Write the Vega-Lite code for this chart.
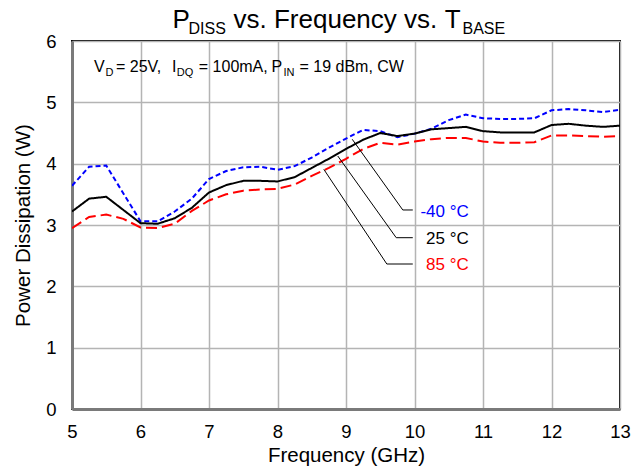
{
  "$schema": "https://vega.github.io/schema/vega-lite/v6.json",
  "width": 548,
  "height": 368,
  "autosize": {"type": "none"},
  "padding": {"left": 72, "top": 41, "right": 24, "bottom": 59},
  "background": "white",
  "config": {
    "view": {"stroke": "#000000", "strokeWidth": 2},
    "font": "Liberation Sans",
    "axis": {
      "labelFont": "Liberation Sans",
      "titleFont": "Liberation Sans",
      "labelColor": "#000000",
      "titleColor": "#000000",
      "titleFontWeight": "normal",
      "gridColor": "#b4b4b4",
      "gridWidth": 1.5,
      "domainColor": "#7a7a7a",
      "domainWidth": 3,
      "ticks": false,
      "labelFlush": false
    }
  },
  "datasets": {
    "series": [
      {"f": 5.0, "p": 3.64, "s": "-40 °C"}, {"f": 5.25, "p": 3.95, "s": "-40 °C"}, {"f": 5.5, "p": 3.97, "s": "-40 °C"}, {"f": 6.0, "p": 3.06, "s": "-40 °C"}, {"f": 6.25, "p": 3.06, "s": "-40 °C"}, {"f": 6.5, "p": 3.22, "s": "-40 °C"}, {"f": 6.75, "p": 3.43, "s": "-40 °C"}, {"f": 7.0, "p": 3.75, "s": "-40 °C"}, {"f": 7.25, "p": 3.88, "s": "-40 °C"}, {"f": 7.5, "p": 3.94, "s": "-40 °C"}, {"f": 7.75, "p": 3.95, "s": "-40 °C"}, {"f": 8.0, "p": 3.9, "s": "-40 °C"}, {"f": 8.25, "p": 3.96, "s": "-40 °C"}, {"f": 8.5, "p": 4.1, "s": "-40 °C"}, {"f": 8.75, "p": 4.26, "s": "-40 °C"}, {"f": 9.0, "p": 4.41, "s": "-40 °C"}, {"f": 9.25, "p": 4.55, "s": "-40 °C"}, {"f": 9.5, "p": 4.53, "s": "-40 °C"}, {"f": 9.75, "p": 4.43, "s": "-40 °C"}, {"f": 10.0, "p": 4.49, "s": "-40 °C"}, {"f": 10.25, "p": 4.57, "s": "-40 °C"}, {"f": 10.5, "p": 4.71, "s": "-40 °C"}, {"f": 10.75, "p": 4.8, "s": "-40 °C"}, {"f": 11.0, "p": 4.74, "s": "-40 °C"}, {"f": 11.25, "p": 4.73, "s": "-40 °C"}, {"f": 11.5, "p": 4.73, "s": "-40 °C"}, {"f": 11.75, "p": 4.74, "s": "-40 °C"}, {"f": 12.0, "p": 4.87, "s": "-40 °C"}, {"f": 12.25, "p": 4.89, "s": "-40 °C"}, {"f": 12.5, "p": 4.87, "s": "-40 °C"}, {"f": 12.75, "p": 4.84, "s": "-40 °C"}, {"f": 13.0, "p": 4.88, "s": "-40 °C"},
      {"f": 5.0, "p": 3.22, "s": "25 °C"}, {"f": 5.25, "p": 3.43, "s": "25 °C"}, {"f": 5.5, "p": 3.46, "s": "25 °C"}, {"f": 6.0, "p": 3.03, "s": "25 °C"}, {"f": 6.25, "p": 3.02, "s": "25 °C"}, {"f": 6.5, "p": 3.11, "s": "25 °C"}, {"f": 6.75, "p": 3.28, "s": "25 °C"}, {"f": 7.0, "p": 3.53, "s": "25 °C"}, {"f": 7.25, "p": 3.65, "s": "25 °C"}, {"f": 7.5, "p": 3.72, "s": "25 °C"}, {"f": 7.75, "p": 3.72, "s": "25 °C"}, {"f": 8.0, "p": 3.71, "s": "25 °C"}, {"f": 8.25, "p": 3.78, "s": "25 °C"}, {"f": 8.5, "p": 3.93, "s": "25 °C"}, {"f": 8.75, "p": 4.08, "s": "25 °C"}, {"f": 9.0, "p": 4.24, "s": "25 °C"}, {"f": 9.25, "p": 4.39, "s": "25 °C"}, {"f": 9.5, "p": 4.5, "s": "25 °C"}, {"f": 9.75, "p": 4.45, "s": "25 °C"}, {"f": 10.0, "p": 4.49, "s": "25 °C"}, {"f": 10.25, "p": 4.56, "s": "25 °C"}, {"f": 10.5, "p": 4.58, "s": "25 °C"}, {"f": 10.75, "p": 4.6, "s": "25 °C"}, {"f": 11.0, "p": 4.53, "s": "25 °C"}, {"f": 11.25, "p": 4.51, "s": "25 °C"}, {"f": 11.5, "p": 4.51, "s": "25 °C"}, {"f": 11.75, "p": 4.51, "s": "25 °C"}, {"f": 12.0, "p": 4.63, "s": "25 °C"}, {"f": 12.25, "p": 4.65, "s": "25 °C"}, {"f": 12.5, "p": 4.62, "s": "25 °C"}, {"f": 12.75, "p": 4.6, "s": "25 °C"}, {"f": 13.0, "p": 4.62, "s": "25 °C"},
      {"f": 5.0, "p": 2.95, "s": "85 °C"}, {"f": 5.25, "p": 3.13, "s": "85 °C"}, {"f": 5.5, "p": 3.17, "s": "85 °C"}, {"f": 5.75, "p": 3.1, "s": "85 °C"}, {"f": 6.0, "p": 2.96, "s": "85 °C"}, {"f": 6.25, "p": 2.95, "s": "85 °C"}, {"f": 6.5, "p": 3.02, "s": "85 °C"}, {"f": 6.75, "p": 3.23, "s": "85 °C"}, {"f": 7.0, "p": 3.4, "s": "85 °C"}, {"f": 7.25, "p": 3.5, "s": "85 °C"}, {"f": 7.5, "p": 3.56, "s": "85 °C"}, {"f": 7.75, "p": 3.58, "s": "85 °C"}, {"f": 8.0, "p": 3.59, "s": "85 °C"}, {"f": 8.25, "p": 3.66, "s": "85 °C"}, {"f": 8.5, "p": 3.8, "s": "85 °C"}, {"f": 8.75, "p": 3.93, "s": "85 °C"}, {"f": 9.0, "p": 4.08, "s": "85 °C"}, {"f": 9.25, "p": 4.24, "s": "85 °C"}, {"f": 9.5, "p": 4.34, "s": "85 °C"}, {"f": 9.75, "p": 4.31, "s": "85 °C"}, {"f": 10.0, "p": 4.36, "s": "85 °C"}, {"f": 10.25, "p": 4.4, "s": "85 °C"}, {"f": 10.5, "p": 4.42, "s": "85 °C"}, {"f": 10.75, "p": 4.42, "s": "85 °C"}, {"f": 11.0, "p": 4.36, "s": "85 °C"}, {"f": 11.25, "p": 4.34, "s": "85 °C"}, {"f": 11.5, "p": 4.34, "s": "85 °C"}, {"f": 11.75, "p": 4.35, "s": "85 °C"}, {"f": 12.0, "p": 4.46, "s": "85 °C"}, {"f": 12.25, "p": 4.46, "s": "85 °C"}, {"f": 12.5, "p": 4.45, "s": "85 °C"}, {"f": 12.75, "p": 4.44, "s": "85 °C"}, {"f": 13.0, "p": 4.45, "s": "85 °C"}
    ],
    "leaders": [
      {"s": "-40 °C", "k": 1, "f": 9.091, "p": 4.398}, {"s": "-40 °C", "k": 2, "f": 9.829, "p": 3.245}, {"s": "-40 °C", "k": 3, "f": 9.975, "p": 3.245},
      {"s": "25 °C", "k": 1, "f": 8.88, "p": 4.125}, {"s": "25 °C", "k": 2, "f": 9.733, "p": 2.793}, {"s": "25 °C", "k": 3, "f": 9.975, "p": 2.793},
      {"s": "85 °C", "k": 1, "f": 8.676, "p": 3.908}, {"s": "85 °C", "k": 2, "f": 9.596, "p": 2.364}, {"s": "85 °C", "k": 3, "f": 9.975, "p": 2.364}
    ],
    "labels": [
      {"s": "-40 °C", "f": 10.793, "p": 3.135},
      {"s": "25 °C", "f": 10.793, "p": 2.69},
      {"s": "85 °C", "f": 10.793, "p": 2.266}
    ],
    "condMain": [
      {"t": "V", "f": 5.321, "p": 5.5},
      {"t": "= 25V,", "f": 5.642, "p": 5.5},
      {"t": "I", "f": 6.46, "p": 5.5},
      {"t": "= 100mA,", "f": 6.851, "p": 5.5},
      {"t": "P", "f": 7.912, "p": 5.5},
      {"t": "= 19 dBm, CW", "f": 8.321, "p": 5.5}
    ],
    "condSub": [
      {"t": "D", "f": 5.489, "p": 5.43},
      {"t": "DQ", "f": 6.53, "p": 5.43},
      {"t": "IN", "f": 8.088, "p": 5.43}
    ],
    "titleMain": [
      {"t": "P", "f": 6.467, "p": 6.207},
      {"t": "vs. Frequency vs.", "f": 7.358, "p": 6.207},
      {"t": "T", "f": 10.44, "p": 6.207}
    ],
    "titleSub": [
      {"t": "DISS", "f": 6.701, "p": 6.114},
      {"t": "BASE", "f": 10.701, "p": 6.114}
    ]
  },
  "encoding": {
    "x": {
      "field": "f", "type": "quantitative",
      "scale": {"domain": [5, 13], "nice": false},
      "axis": {"values": [5, 6, 7, 8, 9, 10, 11, 12, 13], "title": "Frequency (GHz)", "labelFontSize": 18.5, "titleFontSize": 20.5, "labelPadding": 13, "titlePadding": 5}
    },
    "y": {
      "field": "p", "type": "quantitative",
      "scale": {"domain": [0, 6], "nice": false},
      "axis": {"values": [0, 1, 2, 3, 4, 5, 6], "title": "Power Dissipation (W)", "labelFontSize": 18.5, "titleFontSize": 20.5, "labelPadding": 16, "titlePadding": 12}
    }
  },
  "layer": [
    {
      "data": {"name": "series"},
      "mark": {"type": "line", "strokeWidth": 2, "clip": true},
      "encoding": {
        "color": {"field": "s", "type": "nominal", "scale": {"domain": ["-40 °C", "25 °C", "85 °C"], "range": ["#0000ff", "#000000", "#ff0000"]}, "legend": null},
        "strokeDash": {"field": "s", "type": "nominal", "scale": {"domain": ["-40 °C", "25 °C", "85 °C"], "range": [[5, 3], [1, 0], [11, 5]]}, "legend": null}
      }
    },
    {
      "data": {"name": "leaders"},
      "mark": {"type": "line", "color": "#000000", "strokeWidth": 1},
      "encoding": {
        "detail": {"field": "s", "type": "nominal"},
        "order": {"field": "k", "type": "quantitative"}
      }
    },
    {
      "data": {"name": "labels"},
      "mark": {"type": "text", "align": "right", "baseline": "alphabetic", "fontSize": 17, "font": "Liberation Sans"},
      "encoding": {
        "text": {"field": "s"},
        "color": {"field": "s", "type": "nominal", "legend": null}
      }
    },
    {
      "data": {"name": "condMain"},
      "mark": {"type": "text", "align": "left", "baseline": "alphabetic", "fontSize": 16, "font": "Liberation Sans", "color": "#000000"},
      "encoding": {"text": {"field": "t"}}
    },
    {
      "data": {"name": "condSub"},
      "mark": {"type": "text", "align": "left", "baseline": "alphabetic", "fontSize": 11, "font": "Liberation Sans", "color": "#000000"},
      "encoding": {"text": {"field": "t"}}
    },
    {
      "data": {"name": "titleMain"},
      "mark": {"type": "text", "align": "left", "baseline": "alphabetic", "fontSize": 26, "font": "Liberation Sans", "color": "#000000"},
      "encoding": {"text": {"field": "t"}}
    },
    {
      "data": {"name": "titleSub"},
      "mark": {"type": "text", "align": "left", "baseline": "alphabetic", "fontSize": 16, "font": "Liberation Sans", "color": "#000000"},
      "encoding": {"text": {"field": "t"}}
    }
  ]
}
